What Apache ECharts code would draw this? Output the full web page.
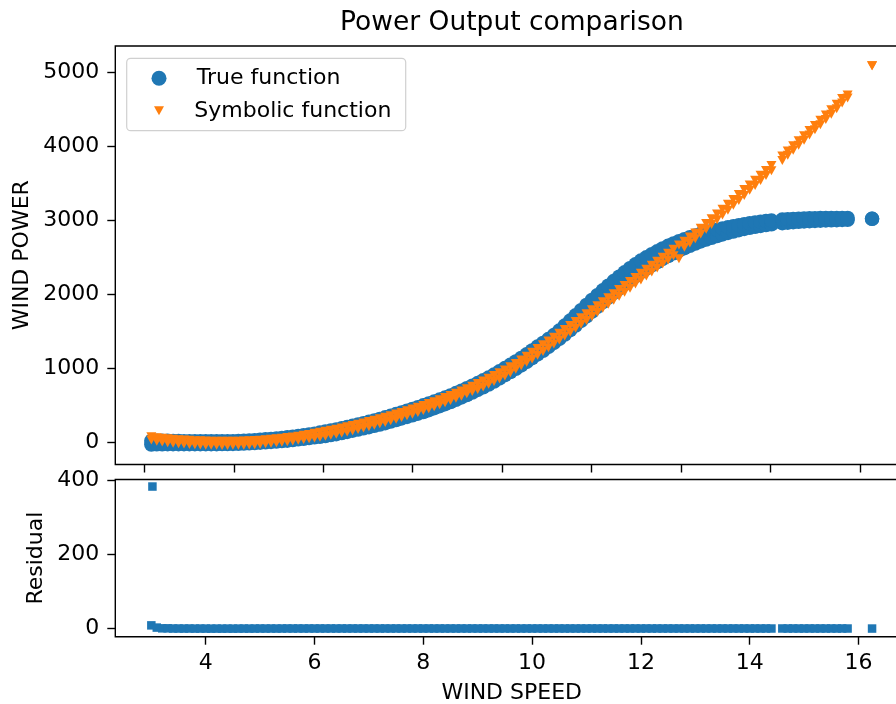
<!DOCTYPE html>
<html>
<head>
<meta charset="utf-8">
<script src="https://cdn.jsdelivr.net/npm/echarts@6/dist/echarts.min.js"></script>
<style>
html,body{margin:0;padding:0;background:#fff;}
#chart{width:896px;height:704px;}
</style>
</head>
<body>
<div id="chart"></div>
<script>
// ---- data ----
const speeds = [
  3.0,3.1,3.2,3.3,3.4,3.5,3.6,3.7,3.8,3.9,
  4.0,4.1,4.2,4.3,4.4,4.5,4.6,4.7,4.8,4.9,
  5.0,5.1,5.2,5.3,5.4,5.5,5.6,5.7,5.8,5.9,
  6.0,6.1,6.2,6.3,6.4,6.5,6.6,6.7,6.8,6.9,
  7.0,7.1,7.2,7.3,7.4,7.5,7.6,7.7,7.8,7.9,
  8.0,8.1,8.2,8.3,8.4,8.5,8.6,8.7,8.8,8.9,
  9.0,9.1,9.2,9.3,9.4,9.5,9.6,9.7,9.8,9.9,
  10.0,10.1,10.2,10.3,10.4,10.5,10.6,10.7,10.8,10.9,
  11.0,11.1,11.2,11.3,11.4,11.5,11.6,11.7,11.8,11.9,
  12.0,12.1,12.2,12.3,12.4,12.5,12.6,12.7,12.8,12.9,
  13.0,13.1,13.2,13.3,13.4,13.5,13.6,13.7,13.8,13.9,
  14.0,14.1,14.2,14.3,14.4,14.6,14.7,14.8,14.9,
  15.0,15.1,15.2,15.3,15.4,15.5,15.6,15.7,15.8,16.25
];
// True function: lower and upper edge of the blue band
const trueLow = [
  -25,-22,-22,-20,-20,-20,-20,-20,-20,-20,
  -20,-20,-20,-19,-18,-17,-15,-12,-9,-5,
  0,5,10,16,23,28,36,45,53,62,
  72,80,90,103,115,130,145,162,178,194,
  210,228,245,264,285,306,327,348,369,391,
  414,439,465,492,519,548,579,610,643,677,
  712,747,785,825,867,910,953,997,1042,1090,
  1140,1190,1240,1292,1345,1400,1458,1518,1580,1642,
  1703,1768,1832,1895,1958,2020,2080,2138,2194,2248,
  2300,2348,2393,2436,2478,2518,2555,2590,2623,2656,
  2686,2714,2740,2764,2787,2809,2829,2848,2866,2883,
  2898,2912,2924,2935,2945,2961,2968,2974,2979,
  2984,2988,2992,2995,2998,3000,3002,3004,3006,3020
];
const trueHigh = [
  25,28,26,25,24,22,20,18,18,18,
  18,18,18,19,20,21,23,26,29,33,
  40,45,50,56,63,72,80,89,99,110,
  122,136,150,163,179,194,211,228,246,264,
  282,300,321,342,363,386,409,432,455,479,
  504,529,555,582,609,638,669,702,735,769,
  804,841,879,919,963,1006,1051,1097,1144,1192,
  1245,1296,1346,1398,1452,1512,1580,1648,1718,1788,
  1858,1925,1990,2055,2118,2180,2240,2298,2354,2406,
  2456,2500,2542,2582,2620,2655,2688,2718,2746,2772,
  2796,2818,2838,2856,2874,2890,2906,2920,2934,2948,
  2960,2970,2980,2989,2997,3010,3015,3019,3022,
  3025,3027,3029,3030,3031,3032,3032,3032,3032,3020
];
// Symbolic function: lower and upper edge of the orange band
const symLow = [
  35,18,8,0,-8,-14,-19,-23,-27,-30,
  -33,-35,-36,-37,-37,-36,-35,-33,-30,-26,
  -21,-15,-9,-2,6,14,23,33,44,55,
  62,74,87,100,115,130,146,162,179,197,
  215,234,254,274,295,317,339,362,385,409,
  433,458,484,511,539,568,598,628,659,690,
  717,752,788,825,862,900,944,990,1037,1085,
  1130,1180,1231,1282,1333,1385,1438,1491,1544,1597,
  1650,1704,1758,1812,1866,1920,1975,2030,2085,2140,
  2195,2249,2303,2357,2411,2465,2521,2480,2638,2694,
  2750,2814,2878,2942,3006,3070,3136,3202,3268,3334,
  3405,3471,3537,3603,3669,3808,3876,3944,4012,
  4080,4150,4220,4290,4360,4430,4506,4582,4650,5085
];
const symHigh = [
  80,68,60,52,46,40,36,32,28,25,
  22,20,19,18,18,19,20,22,25,29,
  34,40,46,53,61,69,78,88,99,110,
  128,140,153,168,183,198,214,232,249,267,
  285,304,324,344,365,387,409,432,455,479,
  503,528,554,581,609,638,668,698,729,760,
  797,832,868,905,942,980,1024,1070,1117,1165,
  1220,1270,1321,1372,1423,1475,1528,1581,1634,1687,
  1740,1794,1848,1902,1956,2010,2065,2120,2175,2230,
  2285,2339,2393,2447,2501,2555,2611,2667,2718,2774,
  2830,2894,2958,3022,3086,3150,3216,3282,3348,3414,
  3475,3541,3607,3673,3739,3868,3936,4004,4072,
  4140,4210,4280,4350,4420,4490,4566,4642,4690,5085
];
// Residuals
const residual = [
  9,3,1,1,0.5,0.5,0.4,0.5,0.3,0.4,
  0.3,0.2,0.3,0.2,0.3,0.2,0.3,0.4,0.3,0.4,
  0.5,0.4,0.5,0.4,0.5,0.6,0.5,0.6,0.5,0.6,
  0.5,0.6,0.5,0.6,0.5,0.6,0.5,0.6,0.5,0.6,
  0.5,0.6,0.5,0.6,0.5,0.6,0.5,0.6,0.5,0.6,
  0.5,0.6,0.5,0.6,0.5,0.6,0.5,0.6,0.5,0.6,
  0.5,0.6,0.5,0.6,0.5,0.6,0.5,0.6,0.5,0.6,
  0.5,0.6,0.5,0.6,0.5,0.6,0.5,0.6,0.5,0.6,
  0.5,0.6,0.5,0.6,0.5,0.6,0.5,0.6,0.5,0.6,
  0.5,0.6,0.5,0.6,0.5,0.6,0.5,0.6,0.5,0.6,
  0.5,0.6,0.5,0.6,0.5,0.6,0.5,0.6,0.5,0.6,
  0.5,0.6,0.5,0.6,0.5,0.6,0.5,0.6,0.5,
  0.5,0.6,0.5,0.6,0.5,0.6,0.5,0.6,0.5,0.4
];
const residOutlierX = [3.02];
const residOutlierY = [384];

// Tick values
const powerTicks = [0, 1000, 2000, 3000, 4000, 5000];
const residTicks = [0, 200, 400];
const speedTicks = [4, 6, 8, 10, 12, 14, 16];
const topPanelTicks = [2.871, 4.516, 6.159, 7.804, 9.448, 11.093, 12.738, 14.381, 16.027];

// ---- build series data ----
const trueData = [];
const symData = [];
const residData = [];
speeds.forEach((s, i) => {
  trueData.push([s, trueLow[i]], [s, trueHigh[i]]);
  symData.push([s, symLow[i]], [s, symHigh[i]]);
  residData.push([s, residual[i]]);
});
residOutlierX.forEach((x, i) => residData.push([x, residOutlierY[i]]));

const FONT = 'DejaVu Sans';
const BLUE = '#1f77b4';
const ORANGE = '#ff7f0e';
const TRI = 'path://M0,0 L10,0 L5,9 Z';

const tickStyle = { color: '#000', width: 1.4 };
const labelStyle = { fontFamily: FONT, fontSize: 22, color: '#000' };
const nameStyle = { fontFamily: FONT, fontSize: 22, color: '#000', lineHeight: 22 };

const chart = echarts.init(document.getElementById('chart'), null, { renderer: 'canvas' });
chart.setOption({
  animation: false,
  backgroundColor: '#fff',
  title: {
    text: 'Power Output comparison',
    left: 340,
    top: 8,
    padding: 0,
    textStyle: { fontFamily: FONT, fontSize: 26.5, fontWeight: 'normal', color: '#000', lineHeight: 30 }
  },
  graphic: [{
    type: 'rect',
    shape: { x: 126.7, y: 58.3, width: 279, height: 72.4, r: 4 },
    style: { fill: 'rgba(255,255,255,0.8)', stroke: '#d0d0d0', lineWidth: 1.2 },
    z: 1
  }],
  legend: [
    {
      data: ['True function'],
      left: 151.5, top: 67.2, padding: 0,
      itemWidth: 65.6, itemHeight: 15,
      textStyle: { fontFamily: FONT, fontSize: 22, color: '#000', lineHeight: 22 },
      selectedMode: false
    },
    {
      data: ['Symbolic function'],
      left: 154, top: 99.8, padding: 0,
      itemWidth: 60.6, itemHeight: 9,
      textStyle: { fontFamily: FONT, fontSize: 22, color: '#000', lineHeight: 22 },
      selectedMode: false
    }
  ],
  grid: [
    { left: 115.3, top: 46, width: 792.8, height: 418.5, show: true, borderColor: '#000', borderWidth: 1.4, containLabel: false, outerBoundsMode: 'none' },
    { left: 115.3, top: 479.5, width: 792.8, height: 157.2, show: true, borderColor: '#000', borderWidth: 1.4, containLabel: false, outerBoundsMode: 'none' }
  ],
  xAxis: [
    {
      type: 'value', gridIndex: 0, min: 2.3375, max: 16.9125,
      axisLine: { show: false, onZero: false }, splitLine: { show: false },
      axisTick: { show: true, length: 8, lineStyle: tickStyle, customValues: topPanelTicks },
      axisLabel: { show: false }
    },
    {
      type: 'value', gridIndex: 1, min: 2.3375, max: 16.9125,
      axisLine: { show: false, onZero: false }, splitLine: { show: false },
      axisTick: { show: true, length: 8, lineStyle: tickStyle, customValues: speedTicks },
      axisLabel: Object.assign({ customValues: speedTicks, margin: 16, formatter: v => String(v) }, labelStyle),
      name: 'WIND SPEED', nameLocation: 'middle', nameGap: 46, nameMoveOverlap: false,
      nameTextStyle: nameStyle
    }
  ],
  yAxis: [
    {
      type: 'value', gridIndex: 0, min: -294, max: 5351,
      axisLine: { show: false, onZero: false }, splitLine: { show: false },
      axisTick: { show: true, length: 8, lineStyle: tickStyle, customValues: powerTicks },
      axisLabel: Object.assign({ customValues: powerTicks, margin: 16, formatter: v => String(v) }, labelStyle),
      name: 'WIND POWER', nameLocation: 'middle', nameGap: 82, nameRotate: 90, nameMoveOverlap: false,
      nameTextStyle: nameStyle
    },
    {
      type: 'value', gridIndex: 1, min: -21.6, max: 403,
      axisLine: { show: false, onZero: false }, splitLine: { show: false },
      axisTick: { show: true, length: 8, lineStyle: tickStyle, customValues: residTicks },
      axisLabel: Object.assign({ customValues: residTicks, margin: 16, formatter: v => String(v) }, labelStyle),
      name: 'Residual', nameLocation: 'middle', nameGap: 78.6, nameRotate: 90, nameMoveOverlap: false,
      nameTextStyle: Object.assign({ verticalAlign: 'middle' }, nameStyle)
    }
  ],
  series: [
    {
      name: 'True function', type: 'scatter', xAxisIndex: 0, yAxisIndex: 0,
      symbol: 'circle', symbolSize: 14.5,
      itemStyle: { color: BLUE, opacity: 1 },
      data: trueData, z: 2
    },
    {
      name: 'Symbolic function', type: 'scatter', xAxisIndex: 0, yAxisIndex: 0,
      symbol: TRI, symbolSize: [10, 9],
      itemStyle: { color: ORANGE, opacity: 1 },
      data: symData, z: 3
    },
    {
      name: 'Residual', type: 'scatter', xAxisIndex: 1, yAxisIndex: 1,
      symbol: 'rect', symbolSize: 8.5,
      itemStyle: { color: BLUE, opacity: 1 },
      data: residData, z: 2
    }
  ]
});
</script>
</body>
</html>
